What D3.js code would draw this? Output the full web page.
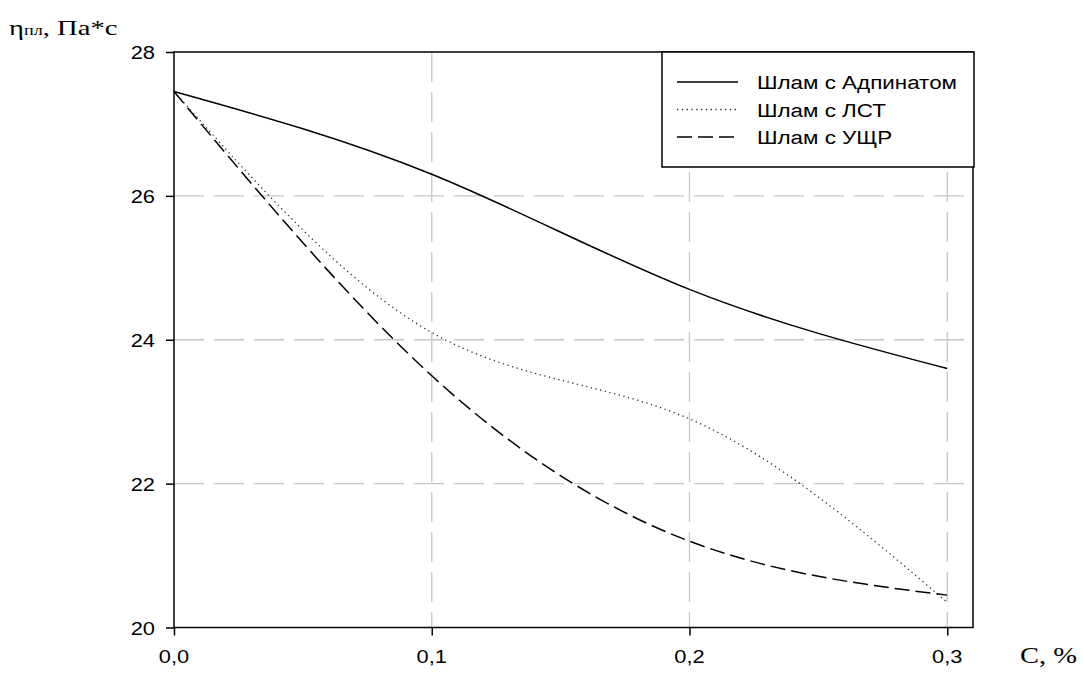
<!DOCTYPE html>
<html>
<head>
<meta charset="utf-8">
<script src="https://cdn.jsdelivr.net/npm/d3@7"></script>
<style>
  body { margin: 0; background: #fff; }
  svg { display: block; }
</style>
</head>
<body>
<div id="chart"></div>
<script>
// данные
const concentrations = [0, 0.1, 0.2, 0.3];
const adpinat = [27.45, 26.3, 24.7, 23.6];
const lst = [27.45, 24.1, 22.9, 20.35];
const uschr = [27.45, 23.5, 21.2, 20.45];
const seriesNames = ['Шлам с Адпинатом', 'Шлам с ЛСТ', 'Шлам с УЩР'];
const xTicks = [0, 0.1, 0.2, 0.3];
const yTicks = [20, 22, 24, 26, 28];
const xGrid = [0.1, 0.2, 0.3];
const yGrid = [22, 24, 26];

const width = 1083, height = 676;
const plot = { left: 174, right: 973, top: 52, bottom: 627.5 };

const svg = d3.select('#chart').append('svg')
    .attr('width', width)
    .attr('height', height);

const x = d3.scaleLinear().domain([0, 0.31]).range([plot.left, plot.right]);
const y = d3.scaleLinear().domain([20, 28]).range([plot.bottom, plot.top]);

// текст, растянутый по горизонтали как в оригинале
function label(sel, px, py, txt, o = {}) {
    const g = sel.append('g')
        .attr('transform', `translate(${px},${py}) scale(${o.sx || 1.15},1)`);
    const t = g.append('text')
        .attr('text-anchor', o.anchor || 'start')
        .attr('font-family', o.family || 'Liberation Sans, Arial, sans-serif')
        .attr('font-size', o.size || 19)
        .attr('fill', '#000');
    if (txt !== null) t.text(txt);
    return t;
}

// сетка
const grid = svg.append('g').attr('class', 'grid')
    .attr('stroke', '#c8c8c8')
    .attr('stroke-width', 1.3)
    .attr('stroke-dasharray', '30,10');

grid.selectAll('line.v').data(xGrid).join('line')
    .attr('class', 'v')
    .attr('x1', d => x(d)).attr('x2', d => x(d))
    .attr('y1', plot.top).attr('y2', plot.bottom);

grid.selectAll('line.h').data(yGrid).join('line')
    .attr('class', 'h')
    .attr('x1', plot.left).attr('x2', plot.right)
    .attr('y1', d => y(d)).attr('y2', d => y(d));

// оси (только засечки)
const xAxis = d3.axisBottom(x).tickValues(xTicks).tickSize(8).tickSizeOuter(0).tickFormat('');
const yAxis = d3.axisLeft(y).tickValues(yTicks).tickSize(8).tickSizeOuter(0).tickFormat('');

svg.append('g')
    .attr('transform', `translate(0,${plot.bottom})`)
    .call(xAxis)
    .call(g => g.select('.domain').remove())
    .call(g => g.selectAll('line').attr('stroke', '#000').attr('stroke-width', 1.5));

svg.append('g')
    .attr('transform', `translate(${plot.left},0)`)
    .call(yAxis)
    .call(g => g.select('.domain').remove())
    .call(g => g.selectAll('line').attr('stroke', '#000').attr('stroke-width', 1.5));

const fmt = d => d3.format('.1f')(d).replace('.', ',');
xTicks.forEach(d => label(svg, x(d), 663, fmt(d), { anchor: 'middle' }));
yTicks.forEach(d => label(svg, 155, y(d) + 7, String(d), { anchor: 'end' }));

// кривые
const line = d3.line()
    .x((d, i) => x(concentrations[i]))
    .y(d => y(d))
    .curve(d3.curveNatural);

const styles = [
    { data: adpinat, dash: null, color: '#000', w: 1.5 },
    { data: lst, dash: '1.3,3.5', color: '#333', w: 1.3 },
    { data: uschr, dash: '15,6', color: '#000', w: 1.5 }
];

const curves = svg.append('g').attr('fill', 'none');
styles.forEach(s => {
    curves.append('path')
        .datum(s.data)
        .attr('d', line)
        .attr('stroke', s.color)
        .attr('stroke-width', s.w)
        .attr('stroke-dasharray', s.dash);
});

// рамка
svg.append('rect')
    .attr('x', plot.left).attr('y', plot.top)
    .attr('width', plot.right - plot.left)
    .attr('height', plot.bottom - plot.top)
    .attr('fill', 'none')
    .attr('stroke', '#000')
    .attr('stroke-width', 1.5);

// легенда
const legend = svg.append('g');
legend.append('rect')
    .attr('x', 662).attr('y', 52)
    .attr('width', 312).attr('height', 115)
    .attr('fill', '#fff')
    .attr('stroke', '#000')
    .attr('stroke-width', 1.5);

styles.forEach((s, i) => {
    const cy = 82 + i * 27.5;
    legend.append('line')
        .attr('x1', 677).attr('x2', 738)
        .attr('y1', cy).attr('y2', cy)
        .attr('stroke', s.color)
        .attr('stroke-width', s.w)
        .attr('stroke-dasharray', s.dash);
    label(legend, 757, cy + 7, seriesNames[i], { sx: 1.18 });
});

// подписи осей
const serif = 'Liberation Serif, Times New Roman, serif';
const yt = label(svg, 9, 35, null, { family: serif, size: 22, sx: 1.3 });
yt.append('tspan').text('η');
yt.append('tspan').attr('font-size', 14).text('пл');
yt.append('tspan').text(', Па*с');

label(svg, 1020, 663, 'C, %', { family: serif, size: 24, sx: 1.19 });
</script>
</body>
</html>
